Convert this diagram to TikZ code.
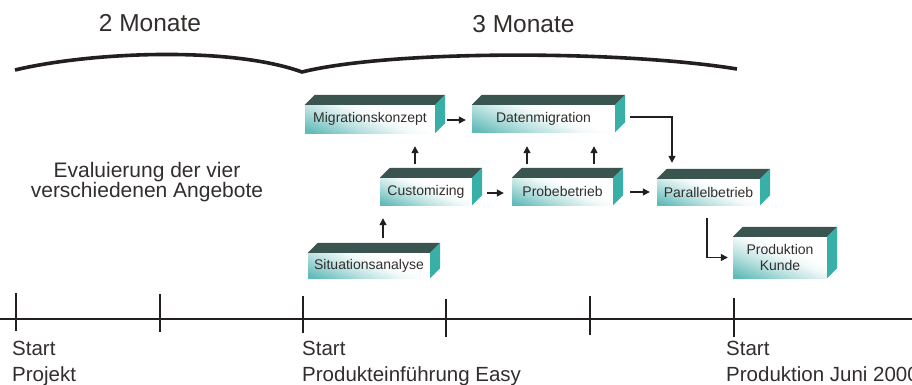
\documentclass[tikz,border=0pt]{standalone}
\usepackage{fontspec}
\setmainfont{Liberation Sans}
\usetikzlibrary{arrows.meta,calc}
\definecolor{fteal}{HTML}{4FB3B0}
\definecolor{topc}{HTML}{3A544F}
\definecolor{sidec}{HTML}{38B0A8}
\definecolor{linec}{HTML}{231F20}
\definecolor{txtc}{HTML}{332E2E}
\pgfdeclareverticalshading{frontsh}{100bp}{color(0bp)=(fteal); color(20bp)=(fteal!90!white); color(38bp)=(fteal!40!white); color(52bp)=(fteal!8!white); color(60bp)=(white); color(100bp)=(white)}
\tikzset{
  front/.style={shading=frontsh, shading angle=-22, inner sep=0pt, text=txtc, font=\fontsize{14}{15.5}\selectfont, align=center},
  arr/.style={draw=linec, line width=1.3pt, -{Triangle[length=7pt,width=7pt]}},
  axisl/.style={draw=linec, line width=1.6pt},
  tickl/.style={draw=linec, line width=1.3pt},
  bracel/.style={draw=linec, line width=3.6pt},
  biglabel/.style={text=txtc, font=\fontsize{24.5}{26}\selectfont, inner sep=0pt},
  midlabel/.style={text=txtc, font=\fontsize{21}{22}\selectfont, inner sep=0pt},
  botlabel/.style={text=txtc, font=\fontsize{20.5}{22}\selectfont, inner sep=0pt, anchor=base west},
}
\newcommand\cubox[6]{%
  \node[front, minimum width=#4pt, minimum height=#5pt] (#1) at (#2,#3) {#6};
  \fill[topc] (#1.north west) -- ++(10,-10) -- ([shift={(10,-10)}]#1.north east) -- (#1.north east) -- cycle;
  \fill[sidec] (#1.north east) -- ++(10,-10) -- ([shift={(10,-10)}]#1.south east) -- (#1.south east) -- cycle;
}
\begin{document}
\begin{tikzpicture}[x=1pt,y=-1pt]
\useasboundingbox (0,0) rectangle (912,385);
\fill[white] (0,0) rectangle (912,385);

% top labels
\node[biglabel, anchor=base] (m2) at (150,32) {2 Monate};
\node[biglabel, anchor=base] (m3) at (523.5,33) {3 Monate};

% brace
\coordinate (b0) at (15,70);
\coordinate (b1) at (302,72);
\coordinate (b2) at (737,69);
\draw[bracel] (b0) .. controls (90,52) and (230,46) .. (b1) .. controls (390,50) and (620,50) .. (b2);

% evaluation text
\node[midlabel, anchor=base] (ev1) at (147,177) {Evaluierung der vier};
\node[midlabel, anchor=base] (ev2) at (147,197) {verschiedenen Angebote};

% boxes
\cubox{MK}{370}{119}{130}{28}{Migrationskonzept}
\cubox{DM}{543.5}{118.5}{143}{27}{Datenmigration}
\cubox{CU}{426}{191.5}{92}{27}{Customizing}
\cubox{PB}{562.5}{191.5}{101}{27}{Probebetrieb}
\cubox{PA}{708.5}{192}{103}{26}{Parallelbetrieb}
\cubox{PK}{780}{257.5}{94}{41}{Produktion\\Kunde}
\cubox{SA}{369}{265.5}{122}{25}{Situationsanalyse}

% connectors
\draw[arr] ([shift={(14,-15)}]SA.north) -- ([shift={(-43,13)}]CU.south);
\draw[arr] ([shift={(-11,-14)}]CU.north) -- ([shift={(45,13)}]MK.south);
\draw[arr] ([shift={(-35.5,-14)}]PB.north) -- ([shift={(-16.5,14)}]DM.south);
\draw[arr] ([shift={(31.5,-14)}]PB.north) -- ([shift={(50.5,14)}]DM.south);
\draw[arr] ([shift={(12,1)}]MK.east) -- ([shift={(-6,1.5)}]DM.west);
\draw[arr] ([shift={(15,1.5)}]CU.east) -- ([shift={(-8,1.5)}]PB.west);
\draw[arr] ([shift={(17,0.5)}]PB.east) -- ([shift={(-7,0)}]PA.west);
\draw[arr] ([shift={(15,-1.5)}]DM.east) -| ([shift={(-36.5,-16)}]PA.north);
\draw[arr] ([shift={(-1.5,13)}]PA.south) |- ([shift={(-5,0)}]PK.west);

% timeline
\coordinate (a0) at (0,319);
\coordinate (a1) at (912,319);
\draw[axisl] (a0) -- (a1);
\coordinate (t1a) at (16,293);  \coordinate (t1b) at (16,331);
\coordinate (t2a) at (160,294); \coordinate (t2b) at (160,332);
\coordinate (t3a) at (303,296); \coordinate (t3b) at (303,333);
\coordinate (t4a) at (446,299); \coordinate (t4b) at (446,337);
\coordinate (t5a) at (590,296); \coordinate (t5b) at (590,335);
\coordinate (t6a) at (734,298); \coordinate (t6b) at (734,337);
\foreach \i in {1,...,6} { \draw[tickl] (t\i a) -- (t\i b); }

% bottom labels
\node[botlabel] (s1a) at (12,355) {Start};
\node[botlabel] (s1b) at (12,381) {Projekt};
\node[botlabel] (s2a) at (302,355) {Start};
\node[botlabel] (s2b) at (302,381) {Produkteinführung Easy};
\node[botlabel] (s3a) at (726,355) {Start};
\node[botlabel] (s3b) at (726,381) {Produktion Juni 2000};
\end{tikzpicture}
\end{document}
